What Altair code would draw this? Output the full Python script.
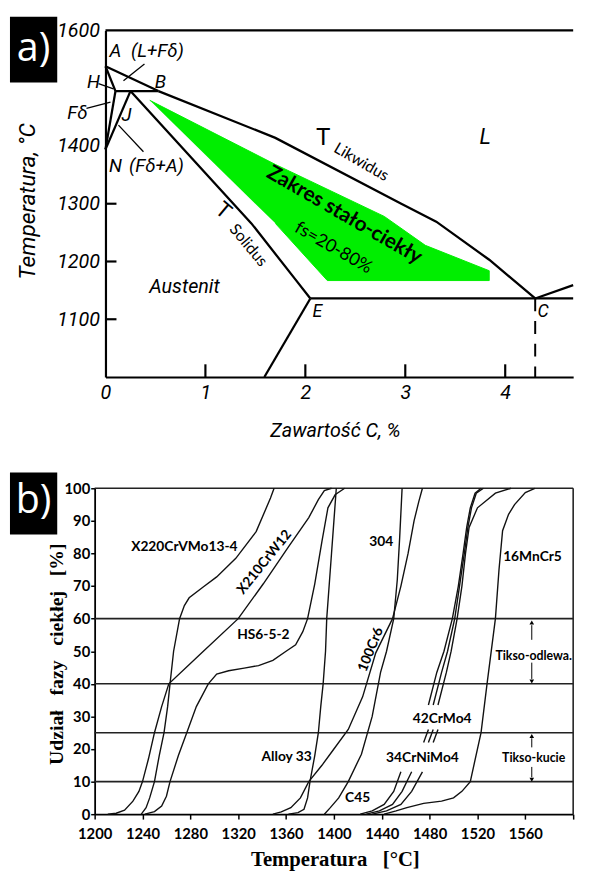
import altair as alt
import pandas as pd

# ================= Panel a : Fe-C diagram =================
a_x_ticks = [0, 1, 2, 3, 4]
a_y_ticks = [1100, 1200, 1300, 1400, 1600]
a_inner_y_ticks = [1100, 1200, 1300]
a_inner_x_ticks = [1, 2, 3, 4]

liq_AB_c = [0.0, 0.53]
liq_AB_t = [1538, 1495]
liq_BC_c = [0.53, 1.70, 2.96, 3.31, 3.84, 4.30]
liq_BC_t = [1495, 1414, 1300, 1269, 1203, 1136]
liq_CD_c = [4.30, 4.68]
liq_CD_t = [1136, 1159]
sol_c = [0.25, 1.46, 1.90, 2.05]
sol_t = [1495, 1266, 1169, 1136]
perit_c = [0.10, 0.53]
perit_t = [1495, 1495]
AH_c = [0.0, 0.10]
AH_t = [1538, 1495]
HN_c = [0.10, 0.0]
HN_t = [1495, 1394]
JN_c = [0.25, 0.0]
JN_t = [1495, 1394]
eut_c = [2.05, 4.68]
eut_t = [1136, 1136]
ES_c = [2.05, 1.59]
ES_t = [1136, 1000]
top_c = [0.0, 4.68]
top_t = [1600, 1600]

lead_LF_c = [0.39, 0.18]
lead_LF_t = [1542, 1513]
lead_H_c = [-0.07, 0.08]
lead_H_t = [1508, 1499]
lead_F_c = [-0.19, 0.05]
lead_F_t = [1465, 1476]
lead_FA_c = [0.13, 0.38]
lead_FA_t = [1436, 1390]

C_dash_c = [4.30, 4.30]
C_dash_t = [1136, 1000]

green_c = [0.443, 1.70, 2.79, 3.20, 3.84, 3.84, 2.22, 1.70]
green_t = [1479, 1368, 1278, 1228, 1184, 1167, 1167, 1266]

ita_text = ["A", "(L+Fδ)", "H", "B", "Fδ", "J", "N", "(Fδ+A)", "L", "Austenit", "E", "C"]
ita_c = [0.10, 0.52, -0.12, 0.55, -0.28, 0.21, 0.10, 0.51, 3.80, 0.79, 2.12, 4.38]
ita_t = [1565, 1565, 1510, 1510, 1457, 1453, 1365, 1365, 1416, 1155, 1112, 1112]
ita_size = [19, 19, 19, 19, 19, 19, 19, 19, 22, 20, 18, 18]

nor_text = ["T", "Likwidus", "T", "Solidus", "fs=20-80%"]
nor_c = [2.18, 2.56, 1.18, 1.43, 2.28]
nor_t = [1414, 1372, 1288, 1228, 1223]
nor_size = [24, 16, 22, 16, 18]
nor_angle = [0, 30, 40, 50, 30]

bold_text = ["Zakres stało-ciekły"]
bold_c = [2.39]
bold_t = [1280]
bold_angle = [30]

# ================= Panel b : liquid fraction =================
b_x_ticks = [1200, 1240, 1280, 1320, 1360, 1400, 1440, 1480, 1520, 1560, 1600]
b_y_ticks = [0, 10, 20, 30, 40, 50, 60, 70, 80, 90, 100]
b_grid = [10, 25, 40, 60, 100]

x220_t = [1239, 1243, 1246, 1250, 1254, 1258, 1261, 1263, 1266, 1271, 1275, 1279, 1291, 1302, 1318, 1335, 1347, 1350]
x220_f = [0, 2, 5, 10, 18, 25, 33, 40, 50, 60, 64, 66.4, 69.8, 72.8, 78.5, 86.7, 97, 100]
x210_t = [1211, 1218, 1225, 1232, 1237, 1240, 1245, 1250, 1256, 1262, 1290, 1320, 1341, 1362, 1379, 1387, 1392, 1398]
x210_f = [0, 0.3, 1.2, 4, 7, 10, 17, 25, 33, 40, 49.7, 60, 70.7, 82, 91, 96.5, 99.3, 100]
hs_t = [1242, 1250, 1256, 1260, 1263, 1270, 1277, 1285, 1295, 1302, 1312, 1325, 1337, 1349, 1360, 1368, 1374, 1378, 1384, 1390, 1395, 1401, 1409]
hs_f = [0, 0.8, 2.5, 5.5, 10, 18, 25, 33, 40, 43, 44, 44.8, 45.6, 47.2, 50, 52, 56, 60, 70.7, 83.7, 94, 98, 100]
alloy_t = [1362, 1370, 1375, 1378, 1380, 1384, 1387, 1389, 1391, 1393, 1394, 1396, 1398, 1400, 1402]
alloy_f = [0, 0.5, 1.5, 5, 10, 18, 25, 33, 40, 50, 60, 70, 80, 90, 100]
cr6_t = [1349, 1356, 1364, 1372, 1379, 1390, 1398, 1412, 1424, 1435, 1449, 1456, 1462, 1467, 1471, 1474]
cr6_f = [0, 0.7, 2, 5, 10, 15, 19, 26, 36, 49.5, 60, 70, 80, 90, 96, 100]
c45_t = [1392, 1397, 1404, 1412, 1423, 1432, 1439, 1444, 1450, 1453, 1455, 1457]
c45_f = [0, 2, 5, 10, 18.4, 30, 43.5, 50, 60, 72, 85, 100]
mn_t = [1442, 1452, 1461, 1475, 1490, 1500, 1507, 1514, 1523, 1528, 1535, 1538, 1541, 1546, 1551, 1560, 1568]
mn_f = [0, 1, 2, 3.3, 4, 5, 7, 10, 25, 40, 60, 75, 87, 92, 95, 98.7, 100]

bundle_f = [0, 1, 3, 7, 13, 22, 26, 33.5, 43.5, 50, 60, 70, 80, 88, 94, 98.5, 100]
bundle_seg = [0, 0, 0, 0, 0, 1, 1, 2, 2, 2, 2, 2, 2, 2, 2, 2, 2]
bun1_t = [1422, 1432, 1442, 1450, 1456, 1475, 1479, 1479, 1486, 1492, 1499, 1504, 1508, 1511, 1514, 1518, 1523]
bun2_t = [1427, 1438, 1449, 1457, 1465, 1479, 1483, 1483, 1490, 1495, 1501, 1505, 1509, 1512, 1515, 1519, 1525]
bun3_t = [1432, 1444, 1456, 1465, 1474, 1483, 1487, 1487, 1494, 1498, 1503, 1507, 1510, 1513, 1520, 1535, 1548]

b_lab_text = ["X220CrVMo13-4", "X210CrW12", "HS6-5-2", "304", "100Cr6", "16MnCr5",
              "Alloy 33", "42CrMo4", "34CrNiMo4", "C45"]
b_lab_t = [1275, 1342, 1341, 1439.5, 1431, 1566, 1360.5, 1490.5, 1474, 1419.8]
b_lab_f = [82, 77.3, 55, 83.4, 50.5, 78.9, 17.5, 29.3, 17.2, 4.8]
b_lab_angle = [0, 309, 0, 0, 292, 0, 0, 0, 0, 0]

tikso_text = ["Tikso-odlewa.", "Tikso-kucie"]
tikso_t = [1567, 1567]
tikso_f = [48.6, 17.2]
arrow_t = [1565.4, 1565.4, 1565.4, 1565.4]
arrow_f1 = [53.5, 46.5, 20.5, 14.5]
arrow_f2 = [58.0, 41.5, 23.3, 11.3]
head_f = [58.8, 40.7, 24.0, 10.6]
head_shape = ["triangle-up", "triangle-down", "triangle-up", "triangle-down"]

# ================= build =================
def poly_df(d, seg=None):
    rows = []
    for k, (xs, ys) in d.items():
        for i, (x, y) in enumerate(zip(xs, ys)):
            s = seg[i] if seg is not None else 0
            rows.append(dict(id=f"{k}_{s}", o=i, x=x, y=y))
    return pd.DataFrame(rows)

GREEN = "#00ee00"
ITF = "Roboto"
CAL = "Lato"
A_W, A_H = 475, 352
SHIFT = 11                # panel b plot starts 11 px left of panel a plot
B_W, B_H = 486 - SHIFT, 331

xa = alt.Scale(domain=[0, 4.68], nice=False, zero=False)
ya = alt.Scale(domain=[1000, 1600], nice=False, zero=False)

ax_ax = alt.Axis(values=a_x_ticks, format="d", ticks=False, grid=False, domainColor="black", domainWidth=2.2,
                 labelFont=ITF, labelFontStyle="italic", labelFontSize=20, labelColor="black",
                 labelPadding=6, labelFlush=False,
                 title="Zawartość C, %", titleFont=ITF, titleFontStyle="italic", titleFontWeight="normal",
                 titleFontSize=20, titleColor="black", titleX=233, titleY=54, titleBaseline="middle",
                 titleAlign="center")
ax_ay = alt.Axis(values=a_y_ticks, format="d", ticks=False, grid=False, domainColor="black", domainWidth=2.2,
                 labelFont=ITF, labelFontStyle="italic", labelFontSize=20, labelColor="black",
                 labelPadding=6, labelFlush=False,
                 title="Temperatura, °C", titleFont=ITF, titleFontStyle="italic", titleFontWeight="normal",
                 titleFontSize=23, titleColor="black", titleX=-79, titleY=173, titleAngle=270,
                 titleBaseline="middle", titleAlign="center")

thick_df = poly_df({
    "AB": (liq_AB_c, liq_AB_t), "BC": (liq_BC_c, liq_BC_t), "CD": (liq_CD_c, liq_CD_t),
    "sol": (sol_c, sol_t), "per": (perit_c, perit_t), "AH": (AH_c, AH_t),
    "HN": (HN_c, HN_t), "JN": (JN_c, JN_t), "eut": (eut_c, eut_t),
    "ES": (ES_c, ES_t), "top": (top_c, top_t)})
lead_df = poly_df({"lf": (lead_LF_c, lead_LF_t), "h": (lead_H_c, lead_H_t),
                   "f": (lead_F_c, lead_F_t), "fa": (lead_FA_c, lead_FA_t)})
dash_df = poly_df({"c": (C_dash_c, C_dash_t)})
green_df = pd.DataFrame({"x": green_c, "y": green_t, "o": list(range(len(green_c)))})

def xA():
    return alt.X("x:Q", scale=xa, axis=ax_ax)

def yA():
    return alt.Y("y:Q", scale=ya, axis=ax_ay)

a_green = alt.Chart(green_df).mark_line(fill=GREEN, stroke=GREEN, strokeWidth=1).encode(
    x=xA(), y=yA(), order="o:Q")
a_thick = alt.Chart(thick_df).mark_line(color="black", strokeWidth=2.3, strokeCap="butt").encode(
    x=xA(), y=yA(), detail="id:N", order="o:Q")
a_lead = alt.Chart(lead_df).mark_line(color="black", strokeWidth=1.3).encode(
    x=xA(), y=yA(), detail="id:N", order="o:Q")
a_dash = alt.Chart(dash_df).mark_line(color="black", strokeWidth=2, strokeDash=[13, 10]).encode(
    x=xA(), y=yA(), order="o:Q")
ytick_df = pd.DataFrame({"y": a_inner_y_ticks, "x": [0] * 3, "x2": [0.11] * 3})
a_ytk = alt.Chart(ytick_df).mark_rule(color="black", strokeWidth=2.2).encode(
    x=xA(), x2="x2:Q", y=yA())
xtick_df = pd.DataFrame({"x": a_inner_x_ticks, "y": [1000] * 4, "y2": [1022] * 4})
a_xtk = alt.Chart(xtick_df).mark_rule(color="black", strokeWidth=2.2).encode(
    x=xA(), y=yA(), y2="y2:Q")

ita_df = pd.DataFrame({"text": ita_text, "x": ita_c, "y": ita_t, "size": ita_size})
a_ita = alt.Chart(ita_df).mark_text(font=ITF, fontStyle="italic", color="black",
                                    align="center", baseline="middle").encode(
    x=xA(), y=yA(), text="text:N", size=alt.Size("size:Q", scale=None))
nor_df = pd.DataFrame({"text": nor_text, "x": nor_c, "y": nor_t, "size": nor_size, "angle": nor_angle})
a_nor = alt.Chart(nor_df).mark_text(font=CAL, color="black", align="center", baseline="middle").encode(
    x=xA(), y=yA(), text="text:N", size=alt.Size("size:Q", scale=None),
    angle=alt.Angle("angle:Q", scale=None))
bold_df = pd.DataFrame({"text": bold_text, "x": bold_c, "y": bold_t, "angle": bold_angle})
a_bold = alt.Chart(bold_df).mark_text(font=CAL, fontWeight="bold", fontSize=21, color="black",
                                      align="center", baseline="middle").encode(
    x=xA(), y=yA(), text="text:N", angle=alt.Angle("angle:Q", scale=None))

one = pd.DataFrame({"k": [0]})
a_box = alt.Chart(one).mark_rect(color="black").encode(
    x=alt.value(-97), x2=alt.value(-49), y=alt.value(-14), y2=alt.value(53))
a_boxt = alt.Chart(one).mark_text(text="a)", font="Open Sans", fontSize=40, color="white",
                                  align="center", baseline="middle").encode(
    x=alt.value(-73), y=alt.value(19))

panel_a = alt.layer(a_green, a_thick, a_lead, a_dash, a_ytk, a_xtk, a_ita, a_nor, a_bold,
                    a_box, a_boxt).properties(width=A_W, height=A_H)

# ---- panel b
xb = alt.Scale(domain=[1200, 1600], nice=False, zero=False, range=[-SHIFT, B_W])
yb = alt.Scale(domain=[0, 100], nice=False, zero=False)
ax_bx = alt.Axis(values=b_x_ticks, format="d", grid=False, domainColor="black", domainWidth=1.8,
                 tickColor="black", tickWidth=1.5, tickSize=5,
                 labelFont=CAL, labelFontWeight="bold", labelFontSize=15, labelColor="black",
                 labelPadding=8, labelFlush=False,
                 labelExpr="datum.value == 1600 ? '' : datum.label",
                 title="Temperatura\u00a0\u00a0 [°C]", titleFont="Liberation Serif", titleFontWeight="bold",
                 titleFontSize=21, titleColor="black", titleX=244 - SHIFT, titleY=46,
                 titleBaseline="middle", titleAlign="center")
ax_by = alt.Axis(values=b_y_ticks, format="d", grid=False, domainColor="black", domainWidth=1.8,
                 offset=SHIFT,
                 tickColor="black", tickWidth=1.5, tickSize=4,
                 labelFont=CAL, labelFontWeight="bold", labelFontSize=15, labelColor="black",
                 labelPadding=1, labelFlush=False,
                 title="Udział\u00a0\u00a0 fazy\u00a0\u00a0 ciekłej\u00a0\u00a0 [%]", titleFont="Liberation Serif",
                 titleFontWeight="bold", titleFontSize=20, titleColor="black",
                 titleX=-39, titleY=168, titleAngle=270, titleBaseline="middle", titleAlign="center")

def xB():
    return alt.X("x:Q", scale=xb, axis=ax_bx)

def yB():
    return alt.Y("y:Q", scale=yb, axis=ax_by)

curves_df = poly_df({"x220": (x220_t, x220_f), "x210": (x210_t, x210_f), "hs": (hs_t, hs_f),
                     "alloy": (alloy_t, alloy_f), "cr6": (cr6_t, cr6_f), "c45": (c45_t, c45_f),
                     "mn": (mn_t, mn_f)})
bundle_df = pd.concat([poly_df({"b1": (bun1_t, bundle_f)}, bundle_seg),
                       poly_df({"b2": (bun2_t, bundle_f)}, bundle_seg),
                       poly_df({"b3": (bun3_t, bundle_f)}, bundle_seg)])
curves_all = pd.concat([curves_df, bundle_df])

grid_df = pd.DataFrame({"y": b_grid, "x": [1200] * len(b_grid), "x2": [1600] * len(b_grid)})
b_grid_l = alt.Chart(grid_df).mark_rule(color="#222", strokeWidth=1.6).encode(
    x=xB(), x2="x2:Q", y=yB())
rb_df = pd.DataFrame({"x": [1600], "y": [0], "y2": [100]})
b_right = alt.Chart(rb_df).mark_rule(color="#222", strokeWidth=1.6).encode(
    x=xB(), y=yB(), y2="y2:Q")
b_curves = alt.Chart(curves_all).mark_line(color="#111", strokeWidth=1.4).encode(
    x=xB(), y=yB(), detail="id:N", order="o:Q")

blab_df = pd.DataFrame({"text": b_lab_text, "x": b_lab_t, "y": b_lab_f, "angle": b_lab_angle})
b_lab = alt.Chart(blab_df).mark_text(font=CAL, fontWeight="bold", fontSize=14, color="black",
                                     align="center", baseline="middle").encode(
    x=xB(), y=yB(), text="text:N", angle=alt.Angle("angle:Q", scale=None))
tik_df = pd.DataFrame({"text": tikso_text, "x": tikso_t, "y": tikso_f})
b_tik = alt.Chart(tik_df).mark_text(font=CAL, fontWeight="bold", fontSize=12.5, color="black",
                                    align="center", baseline="middle").encode(
    x=xB(), y=yB(), text="text:N")
arr_df = pd.DataFrame({"x": arrow_t, "y": arrow_f1, "y2": arrow_f2})
b_arr = alt.Chart(arr_df).mark_rule(color="black", strokeWidth=1).encode(
    x=xB(), y=yB(), y2="y2:Q")
head_df = pd.DataFrame({"x": arrow_t, "y": head_f, "shape": head_shape})
b_head = alt.Chart(head_df).mark_point(filled=True, color="black", size=22, opacity=1).encode(
    x=xB(), y=yB(), shape=alt.Shape("shape:N", scale=None))

b_box = alt.Chart(one).mark_rect(color="black").encode(
    x=alt.value(-97), x2=alt.value(-49), y=alt.value(-16), y2=alt.value(47))
b_boxt = alt.Chart(one).mark_text(text="b)", font="Open Sans", fontSize=40, color="white",
                                  align="center", baseline="middle").encode(
    x=alt.value(-73), y=alt.value(13))

panel_b = alt.layer(b_grid_l, b_right, b_curves, b_lab, b_tik, b_arr, b_head, b_box, b_boxt
                    ).properties(width=B_W, height=B_H)

chart = alt.vconcat(panel_a, panel_b, spacing=33).properties(
    padding={"left": 2, "top": 2, "right": 0, "bottom": 0}
).configure_view(stroke=None)

chart.save("out.html", embed_options={"renderer": "svg", "actions": False})
